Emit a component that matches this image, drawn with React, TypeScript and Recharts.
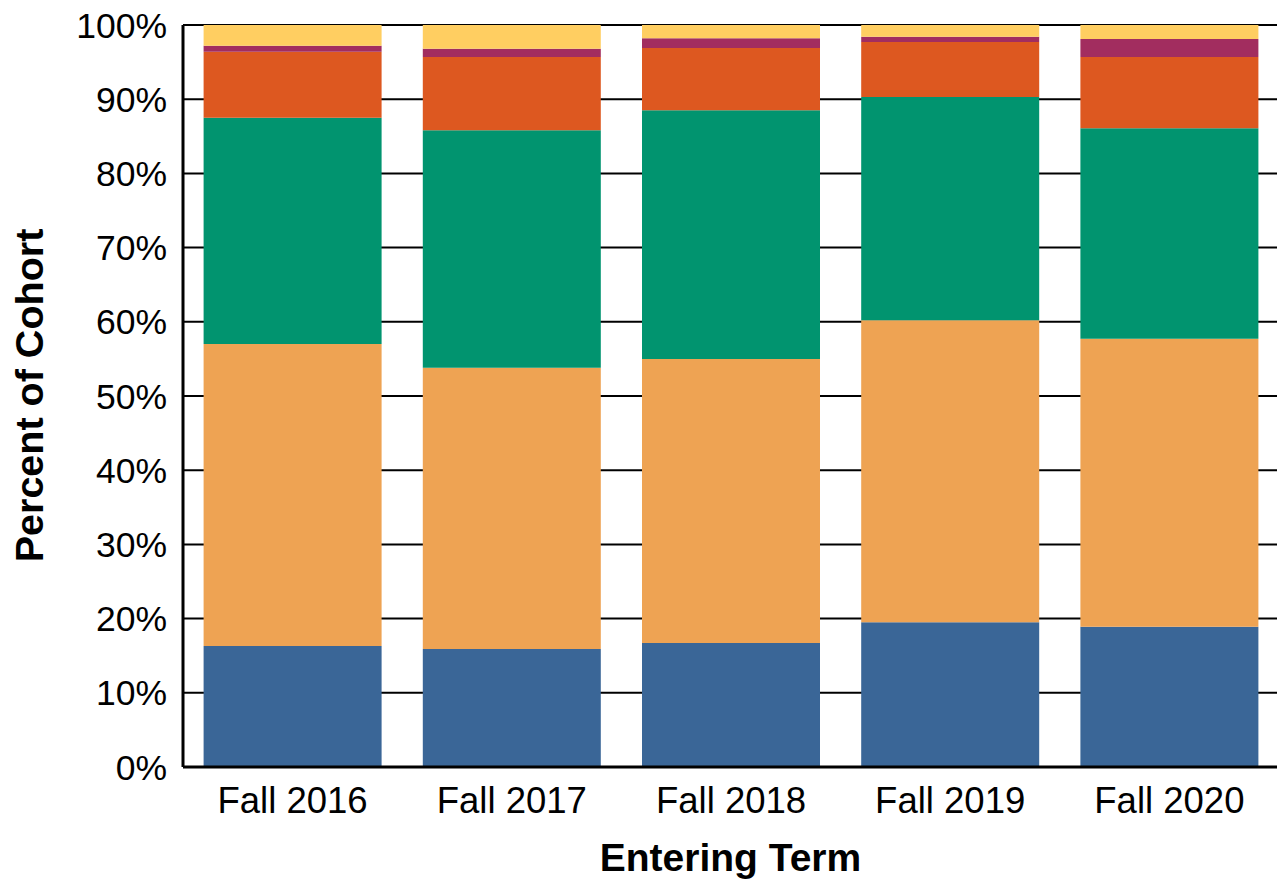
import React from "react";
import { BarChart, Bar, XAxis, YAxis, CartesianGrid } from "recharts";

const terms = ["Fall 2016", "Fall 2017", "Fall 2018", "Fall 2019", "Fall 2020"];
const seriesA = [16.3, 15.9, 16.7, 19.5, 18.9];
const seriesB = [40.7, 37.9, 38.3, 40.7, 38.8];
const seriesC = [30.5, 32.0, 33.5, 30.1, 28.4];
const seriesD = [8.9, 9.9, 8.4, 7.4, 9.6];
const seriesE = [0.8, 1.1, 1.3, 0.7, 2.4];
const seriesF = [2.8, 3.2, 1.8, 1.6, 1.9];
const yTicks = [0, 10, 20, 30, 40, 50, 60, 70, 80, 90, 100];

const series = [
  { key: "a", values: seriesA, color: "#3A6697" },
  { key: "b", values: seriesB, color: "#EEA353" },
  { key: "c", values: seriesC, color: "#01946F" },
  { key: "d", values: seriesD, color: "#DD5820" },
  { key: "e", values: seriesE, color: "#A22D5F" },
  { key: "f", values: seriesF, color: "#FFCE61" },
];

const data = terms.map((term, i) => {
  const row: Record<string, number | string> = { term };
  series.forEach((s) => {
    row[s.key] = s.values[i];
  });
  return row;
});

const FONT = '"Liberation Sans", Arial, Helvetica, sans-serif';

export default function App() {
  return (
    <div style={{ position: "absolute", left: 0, top: 0, width: 1277, height: 881, background: "#fff", overflow: "hidden" }}>
      <BarChart
        width={1277}
        height={881}
        data={data}
        margin={{ top: 25, right: -2, bottom: 0, left: 0 }}
        barCategoryGap={20.6}
      >
        <CartesianGrid vertical={false} stroke="#000" strokeWidth={2} />
        <XAxis
          dataKey="term"
          height={114}
          axisLine={{ stroke: "#000", strokeWidth: 3 }}
          tickLine={false}
          tickSize={0}
          tickMargin={20}
          tick={{ fill: "#000", fontSize: 36.5, fontFamily: FONT }}
          label={{
            content: (props: any) => {
              const vb = props.viewBox || {};
              return (
                <text
                  x={730.5}
                  y={vb.y + 104}
                  textAnchor="middle"
                  fill="#000"
                  fontSize={39}
                  fontWeight="bold"
                  fontFamily={FONT}
                >
                  Entering Term
                </text>
              );
            },
          }}
        />
        <YAxis
          width={183}
          domain={[0, 100]}
          ticks={yTicks}
          interval={0}
          tickFormatter={(v: number) => `${v}%`}
          axisLine={{ stroke: "#000", strokeWidth: 3 }}
          tickLine={false}
          tickSize={0}
          tickMargin={16}
          tick={{ fill: "#000", fontSize: 35.5, fontFamily: FONT }}
          label={{
            content: (props: any) => {
              const vb = props.viewBox || {};
              const cx = vb.x + 43;
              const cy = vb.y + vb.height / 2 - 0.5;
              return (
                <text
                  x={cx}
                  y={cy}
                  transform={`rotate(-90 ${cx} ${cy})`}
                  textAnchor="middle"
                  fill="#000"
                  fontSize={39.5}
                  fontWeight="bold"
                  fontFamily={FONT}
                >
                  Percent of Cohort
                </text>
              );
            },
          }}
        />
        {series.map((s) => (
          <Bar key={s.key} dataKey={s.key} stackId="s" fill={s.color} isAnimationActive={false} />
        ))}
      </BarChart>
    </div>
  );
}
